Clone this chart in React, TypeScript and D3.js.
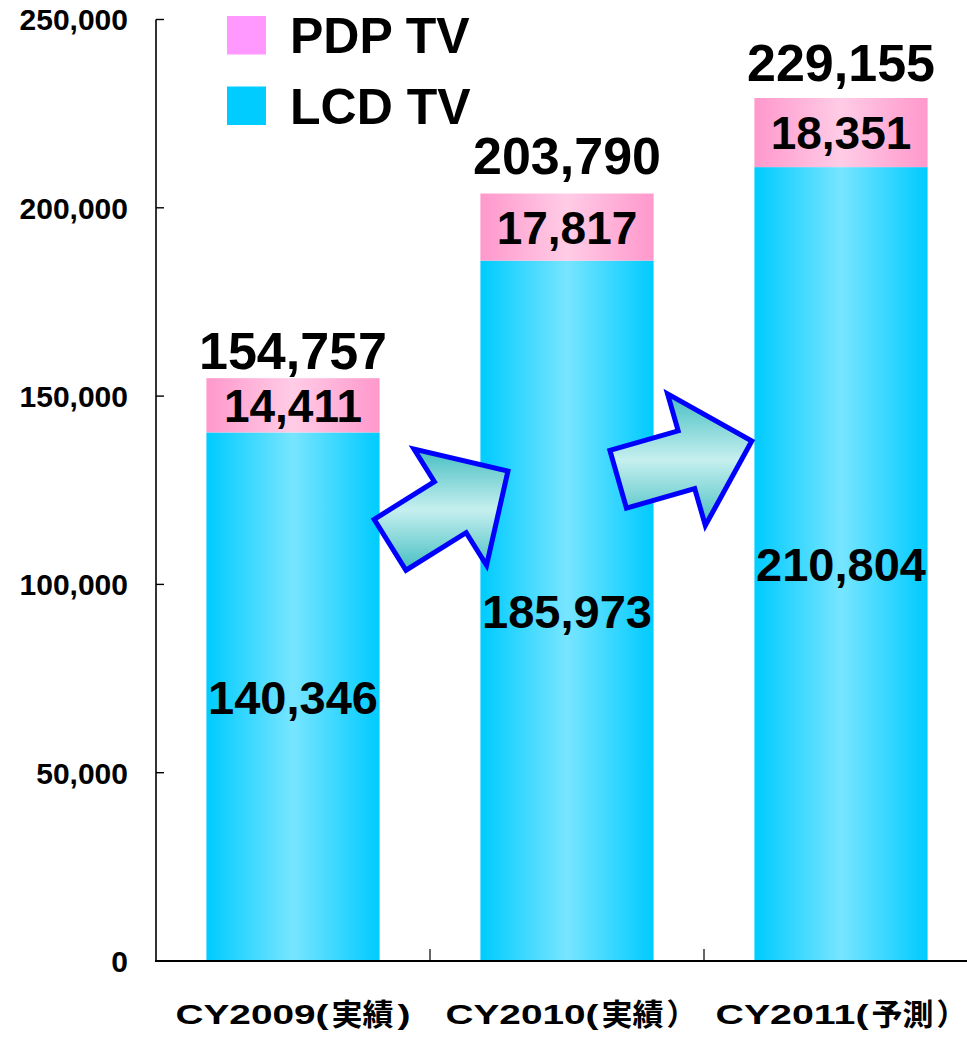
import React from "react";
import * as d3 from "d3";

// ---- data ----
const categories = ["CY2009(実績)", "CY2010(実績）", "CY2011(予測）"];
const lcdValues = [140346, 185973, 210804];
const pdpValues = [14411, 17817, 18351];
const totalValues = [154757, 203790, 229155];
const yTicks = [0, 50000, 100000, 150000, 200000, 250000];
const seriesNames = ["PDP TV", "LCD TV"];

// ---- styling / layout constants ----
const W = 967;
const H = 1037;
const FONT = "'Liberation Sans', Arial, 'Noto Sans CJK JP', sans-serif";
const CJK_FONT = "'Noto Sans CJK JP', sans-serif";
const totalGap = [9, 20, 17];
const catLabelShift = [0, -1, -5];
// decorative arrows: placed by band boundary index + offset, value level, angle
const arrowSpecs = [
  { boundary: 1, dx: 19, value: 120300, angle: -32 },
  { boundary: 2, dx: -19, value: 133000, angle: -16 },
];

function CategoryLabel({ label, cx }: { label: string; cx: number }) {
  const m = label.match(/^([A-Za-z0-9(]+)([^)）]+)([)）])$/);
  if (!m) return null;
  const [, pre, cjk, suf] = m;
  const preW = 153;
  const cjkW = 62;
  const fullWidth = suf === "）";
  const sufGap = fullWidth ? 10 : 4;
  const sufW = 13;
  const total = preW + 3 + cjkW + sufGap + sufW;
  const x0 = cx - total / 2;
  const xc = x0 + preW + 3;
  const base = 1024;
  return (
    <g fontWeight="bold" fill="#000">
      <text x={x0} y={base} fontSize={28} textLength={preW} lengthAdjust="spacingAndGlyphs" fontFamily={FONT}>
        {pre}
      </text>
      <text x={xc} y={base + 1} fontSize={30} textLength={cjkW} lengthAdjust="spacingAndGlyphs" fontFamily={CJK_FONT}>
        {cjk}
      </text>
      {fullWidth ? (
        <text x={xc + cjkW + 3} y={base + 1} fontSize={30} fontFamily={CJK_FONT}>
          {suf}
        </text>
      ) : (
        <text x={xc + cjkW + sufGap} y={base} fontSize={28} textLength={sufW} lengthAdjust="spacingAndGlyphs" fontFamily={FONT}>
          {suf}
        </text>
      )}
    </g>
  );
}

export default function App() {
  const x = d3.scaleBand<string>().domain(categories).range([156, 978]).padding(0);
  const y = d3.scaleLinear().domain([0, 250000]).range([961, 19.5]);
  const fmt = d3.format(",");
  const barW = x.bandwidth() * 0.632;
  const barOff = (x.bandwidth() - barW) / 2;

  // block-arrow outline in local coordinates (tip at +x)
  const shaftW = 60, shaftL = 71, headW = 137, headL = 68;
  const total = shaftL + headL;
  const local: [number, number][] = [
    [-total / 2, -shaftW / 2],
    [-total / 2 + shaftL, -shaftW / 2],
    [-total / 2 + shaftL, -headW / 2],
    [total / 2, 0],
    [-total / 2 + shaftL, headW / 2],
    [-total / 2 + shaftL, shaftW / 2],
    [-total / 2, shaftW / 2],
  ];
  const arrowPaths = arrowSpecs.map((a) => {
    const cx = 156 + x.step() * a.boundary + a.dx;
    const cy = y(a.value);
    const r = (a.angle * Math.PI) / 180;
    const pts = local.map(([px, py]) => [
      cx + px * Math.cos(r) - py * Math.sin(r),
      cy + px * Math.sin(r) + py * Math.cos(r),
    ] as [number, number]);
    return d3.line()(pts) + "Z";
  });

  return (
    <svg
      width={W}
      height={H}
      style={{ position: "absolute", left: 0, top: 0, display: "block", background: "#fff" }}
      fontFamily={FONT}
    >
      <defs>
        <linearGradient id="lcdGrad" x1="0" x2="1" y1="0" y2="0">
          <stop offset="0" stopColor="#00CCFF" />
          <stop offset="0.06" stopColor="#0DCEFF" />
          <stop offset="0.5" stopColor="#78E5FF" />
          <stop offset="0.94" stopColor="#0DCEFF" />
          <stop offset="1" stopColor="#00CCFF" />
        </linearGradient>
        <linearGradient id="pdpGrad" x1="0" x2="1" y1="0" y2="0">
          <stop offset="0" stopColor="#FF99CC" />
          <stop offset="0.06" stopColor="#FF9ECF" />
          <stop offset="0.5" stopColor="#FFCCE6" />
          <stop offset="0.94" stopColor="#FF9ECF" />
          <stop offset="1" stopColor="#FF99CC" />
        </linearGradient>
        <linearGradient id="arrowGrad" x1="0" x2="0" y1="0" y2="1">
          <stop offset="0" stopColor="#45BFC2" />
          <stop offset="0.5" stopColor="#C6EFEF" />
          <stop offset="1" stopColor="#45BFC2" />
        </linearGradient>
      </defs>

      {/* bars */}
      {categories.map((c, i) => {
        const bx = (x(c) as number) + barOff;
        const yL = y(lcdValues[i]);
        const yT = y(lcdValues[i] + pdpValues[i]);
        return (
          <g key={c}>
            <rect x={bx} y={yL} width={barW} height={y(0) - yL} fill="url(#lcdGrad)" />
            <rect x={bx} y={yT} width={barW} height={yL - yT} fill="url(#pdpGrad)" />
          </g>
        );
      })}

      {/* axes */}
      <line x1={156} x2={156} y1={y(250000)} y2={y(0)} stroke="#000" strokeWidth={1.6} />
      <line x1={155} x2={978} y1={y(0)} y2={y(0)} stroke="#000" strokeWidth={2.2} />
      {yTicks.map((t) => (
        <g key={t}>
          <line x1={156} x2={164} y1={y(t)} y2={y(t)} stroke="#000" strokeWidth={1.4} />
          <text x={128} y={y(t) + 10.8} textAnchor="end" fontSize={30} fontWeight="bold" fill="#000">
            {fmt(t)}
          </text>
        </g>
      ))}
      {[1, 2].map((k) => (
        <line
          key={k}
          x1={156 + x.step() * k}
          x2={156 + x.step() * k}
          y1={y(0) - 12}
          y2={y(0)}
          stroke="#000"
          strokeWidth={1.2}
        />
      ))}
      {categories.map((c, i) => (
        <CategoryLabel key={c} label={c} cx={(x(c) as number) + x.bandwidth() / 2 + catLabelShift[i]} />
      ))}

      {/* value labels */}
      {categories.map((c, i) => {
        const cx = (x(c) as number) + x.bandwidth() / 2;
        const yL = y(lcdValues[i]);
        const yT = y(totalValues[i]);
        return (
          <g key={c} fontWeight="bold" fill="#000" textAnchor="middle">
            <text x={cx} y={(yL + y(0)) / 2 + 17} fontSize={47}>
              {fmt(lcdValues[i])}
            </text>
            <text x={cx} y={(yL + y(lcdValues[i] + pdpValues[i])) / 2 + 16.5} fontSize={46}>
              {fmt(pdpValues[i])}
            </text>
            <text x={cx} y={yT - totalGap[i]} fontSize={52}>
              {fmt(totalValues[i])}
            </text>
          </g>
        );
      })}

      {/* arrows */}
      {arrowPaths.map((d, i) => (
        <path key={i} d={d} fill="url(#arrowGrad)" stroke="#0000FF" strokeWidth={5} strokeLinejoin="miter" />
      ))}

      {/* legend */}
      {seriesNames.map((s, i) => (
        <g key={s}>
          <rect x={227} y={16 + i * 70.5} width={39} height={38.5} fill={i === 0 ? "#FF99FF" : "#00CCFF"} />
          <text x={290} y={53 + i * 71} fontSize={50} fontWeight="bold" fill="#000">
            {s}
          </text>
        </g>
      ))}
    </svg>
  );
}
